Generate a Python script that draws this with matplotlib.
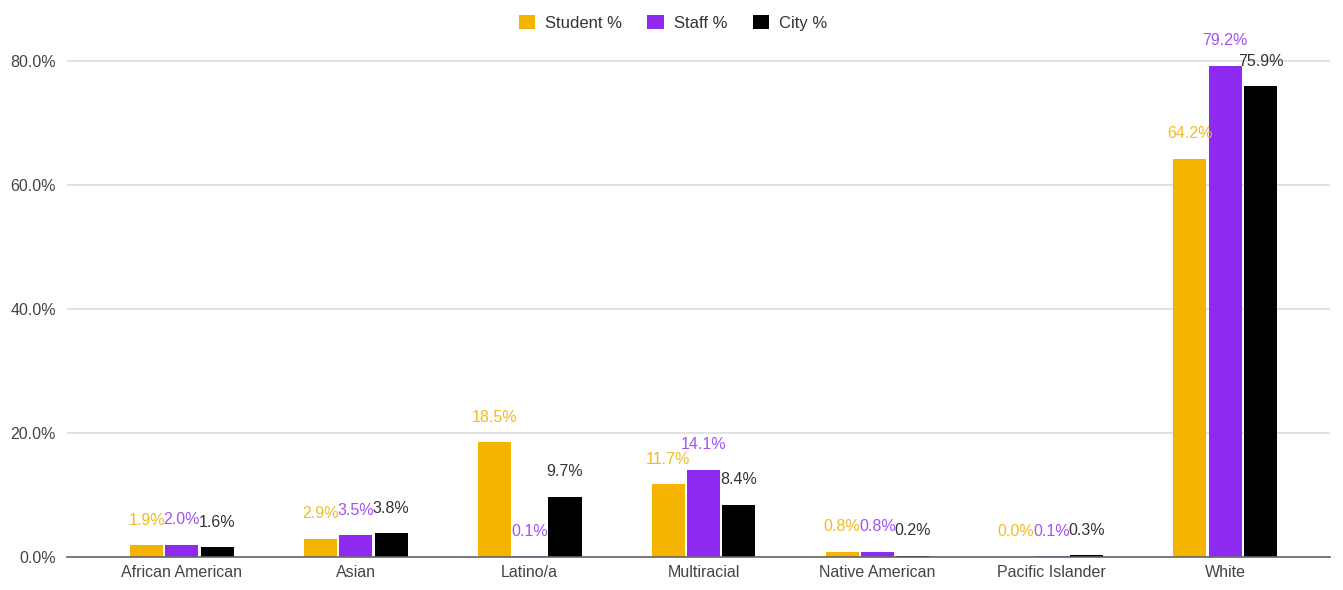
import numpy as np
import matplotlib.pyplot as plt
from matplotlib.ticker import FuncFormatter

categories = ["African American", "Asian", "Latino/a", "Multiracial",
              "Native American", "Pacific Islander", "White"]
student_pct = [1.9, 2.9, 18.5, 11.7, 0.8, 0.0, 64.2]
staff_pct = [2.0, 3.5, 0.1, 14.1, 0.8, 0.1, 79.2]
city_pct = [1.6, 3.8, 9.7, 8.4, 0.2, 0.3, 75.9]

series = [
    ("Student %", student_pct, "#F4B400", "#F2BB22"),
    ("Staff %", staff_pct, "#8F2BF0", "#A252F2"),
    ("City %", city_pct, "#000000", "#333333"),
]

plt.rcParams['font.family'] = ['Liberation Sans', 'DejaVu Sans']

fig = plt.figure(figsize=(13.43, 5.9), dpi=100)
ax = fig.add_axes([0.050, 0.056, 0.940, 0.883])

x = np.arange(len(categories))
width = 0.19
step = 0.203

for i, (name, vals, color, lab_color) in enumerate(series):
    pos = x + (i - 1) * step
    ax.bar(pos, vals, width, color=color, label=name, zorder=3)
    for xp, v in zip(pos, vals):
        ax.annotate(f"{v:.1f}%", (xp, v), xytext=(0, 18), textcoords="offset points",
                    ha="center", va="center", fontsize=11.5, color=lab_color, zorder=4)

ax.set_xlim(-0.66, 6.6)
ax.set_ylim(0, 84)
ax.set_yticks([0, 20, 40, 60, 80])
ax.yaxis.set_major_formatter(FuncFormatter(lambda v, p: f"{v:.1f}%"))
ax.set_xticks(x)
ax.set_xticklabels(categories)
ax.tick_params(axis="both", length=0, labelsize=11.5, colors="#444444")
ax.tick_params(axis="x", pad=6)
ax.tick_params(axis="y", pad=8)

ax.grid(axis="y", color="#DDDDDD", linewidth=1.2, zorder=0)
for s in ["top", "right", "left"]:
    ax.spines[s].set_visible(False)
ax.spines["bottom"].set_color("#666666")
ax.spines["bottom"].set_linewidth(1.2)
ax.spines["bottom"].set_zorder(5)

ax.legend(loc="upper center", bbox_to_anchor=(0.48, 1.07), ncol=3, frameon=False,
          fontsize=12, handlelength=1.0, handleheight=1.0, handletextpad=0.6,
          columnspacing=1.5, labelcolor="#333333")

fig.savefig("out.png", dpi=100)
